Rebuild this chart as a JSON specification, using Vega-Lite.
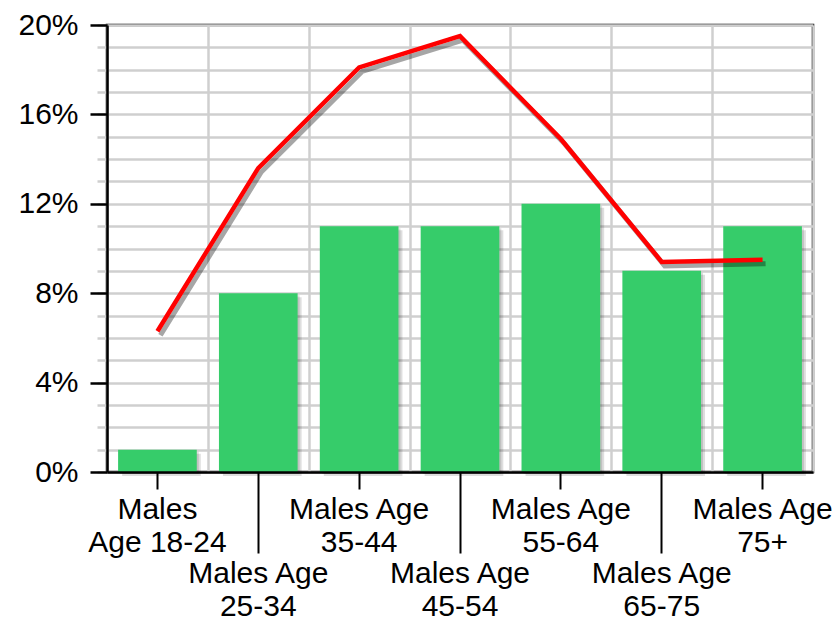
{
  "$schema": "https://vega.github.io/schema/vega-lite/v6.json",
  "width": 706,
  "height": 447,
  "autosize": "none",
  "padding": {"left": 107, "top": 25, "right": 23, "bottom": 148},
  "background": "white",
  "config": {
    "view": {"stroke": "black", "strokeWidth": 2.5},
    "font": "Liberation Sans",
    "axis": {"labelFont": "Liberation Sans", "labelColor": "black", "titleFont": "Liberation Sans"}
  },
  "data": {
    "values": [
      {"cat": "Males Age 18-24", "bar": 1, "line": 6.3},
      {"cat": "Males Age 25-34", "bar": 8, "line": 13.6},
      {"cat": "Males Age 35-44", "bar": 11, "line": 18.1},
      {"cat": "Males Age 45-54", "bar": 11, "line": 19.5},
      {"cat": "Males Age 55-64", "bar": 12, "line": 14.9},
      {"cat": "Males Age 65-75", "bar": 9, "line": 9.4},
      {"cat": "Males Age 75+", "bar": 11, "line": 9.5}
    ]
  },
  "layer": [
    {
      "mark": {"type": "bar", "color": "black", "opacity": 0.13, "xOffset": 2, "yOffset": 2, "width": {"band": 0.78}},
      "encoding": {
        "x": {
          "field": "cat", "type": "nominal", "sort": null,
          "scale": {"paddingInner": 0, "paddingOuter": 0},
          "axis": {"orient": "bottom", "title": null, "grid": true, "tickBand": "extent", "gridColor": "#cfcfcf", "gridWidth": 2.5, "labels": false, "ticks": false, "domain": false, "zindex": 0}
        },
        "y": {
          "field": "bar", "type": "quantitative",
          "scale": {"domain": [0, 20], "nice": false},
          "axis": {"orient": "left", "title": null, "values": [0,1,2,3,4,5,6,7,8,9,10,11,12,13,14,15,16,17,18,19,20], "grid": true, "gridColor": "#cfcfcf", "gridWidth": 2.5, "labels": false, "ticks": true, "tickSize": 10, "tickColor": "#cfcfcf", "tickWidth": 2.5, "domain": false, "zindex": 0}
        }
      }
    },
    {
      "mark": {"type": "bar", "color": "black", "opacity": 0.13, "xOffset": 4, "yOffset": 4, "width": {"band": 0.78}},
      "encoding": {
        "x": {"field": "cat", "type": "nominal", "sort": null, "axis": null},
        "y": {"field": "bar", "type": "quantitative", "axis": null}
      }
    },
    {
      "mark": {"type": "bar", "color": "#36cc6a", "width": {"band": 0.78}},
      "encoding": {
        "x": {
          "field": "cat", "type": "nominal", "sort": null,
          "axis": {
            "orient": "bottom", "title": null, "grid": false, "zindex": 1,
            "domainColor": "black", "domainWidth": 2.5,
            "tickColor": "black", "tickWidth": 2,
            "tickSize": {"condition": {"test": "indexof(['Males Age 25-34','Males Age 45-54','Males Age 65-75'], datum.value) >= 0", "value": 81}, "value": 17},
            "labelPadding": 5,
            "labelExpr": "datum.label == 'Males Age 18-24' ? ['Males', 'Age 18-24'] : ['Males Age', slice(datum.label, 10)]",
            "labelFontSize": 30, "labelAngle": 0, "labelBaseline": "top", "labelLineHeight": 33,
            "labelOverlap": false, "labelBound": false, "labelLimit": 300
          }
        },
        "y": {
          "field": "bar", "type": "quantitative",
          "axis": {
            "orient": "left", "title": null, "grid": false, "zindex": 1,
            "values": [0, 4, 8, 12, 16, 20],
            "labelExpr": "datum.value + '%'",
            "domainColor": "black", "domainWidth": 2.5,
            "tickColor": "black", "tickWidth": 2.5, "tickSize": 17,
            "labelPadding": 12, "labelFontSize": 30
          }
        }
      }
    },
    {
      "mark": {"type": "line", "color": "black", "opacity": 0.35, "strokeWidth": 5, "xOffset": 3, "yOffset": 4},
      "encoding": {
        "x": {"field": "cat", "type": "nominal", "sort": null, "axis": null},
        "y": {"field": "line", "type": "quantitative", "axis": null}
      }
    },
    {
      "mark": {"type": "line", "color": "#ff0000", "strokeWidth": 4.5},
      "encoding": {
        "x": {"field": "cat", "type": "nominal", "sort": null, "axis": null},
        "y": {"field": "line", "type": "quantitative", "axis": null}
      }
    }
  ],
  "resolve": {"axis": {"x": "independent", "y": "independent"}}
}
